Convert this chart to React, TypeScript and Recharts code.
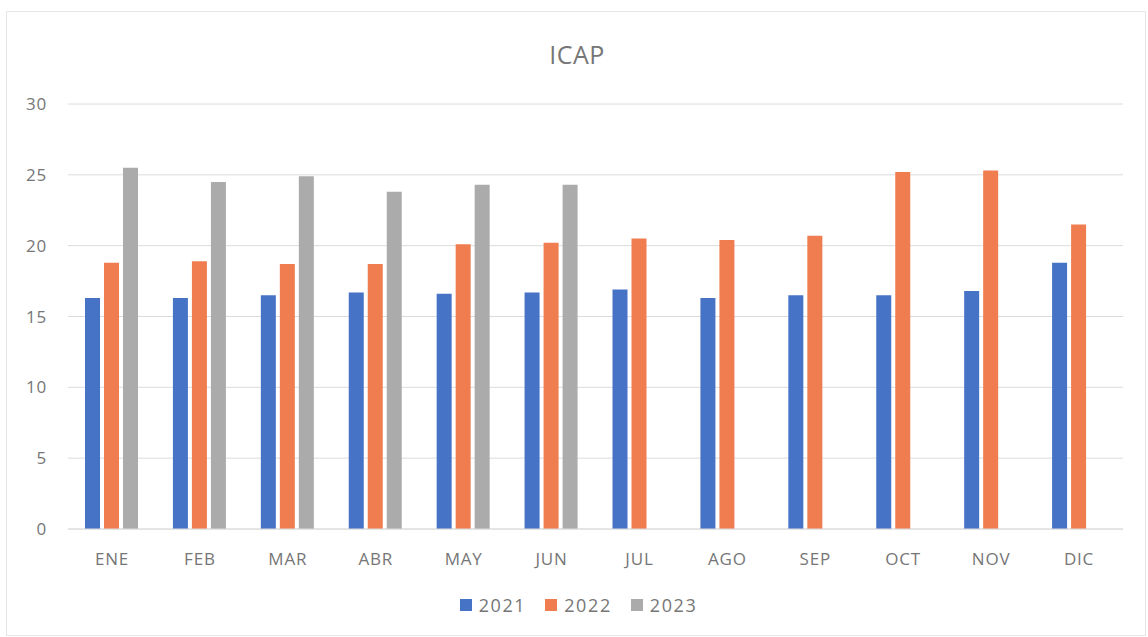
import { Bar, BarChart, CartesianGrid, Legend, XAxis, YAxis } from "recharts";

const months = ["ENE", "FEB", "MAR", "ABR", "MAY", "JUN", "JUL", "AGO", "SEP", "OCT", "NOV", "DIC"];
const values2021 = [16.3, 16.3, 16.5, 16.7, 16.6, 16.7, 16.9, 16.3, 16.5, 16.5, 16.8, 18.8];
const values2022 = [18.8, 18.9, 18.7, 18.7, 20.1, 20.2, 20.5, 20.4, 20.7, 25.2, 25.3, 21.5];
const values2023 = [25.5, 24.5, 24.9, 23.8, 24.3, 24.3, null, null, null, null, null, null];
const yTicks = [0, 5, 10, 15, 20, 25, 30];

const series = [
  { key: "2021", color: "#4773C6" },
  { key: "2022", color: "#EF7D4F" },
  { key: "2023", color: "#ABABAB" },
];

const data = months.map((m, i) => ({
  month: m,
  "2021": values2021[i],
  "2022": values2022[i],
  "2023": values2023[i],
}));

const FONT = "'Open Sans', sans-serif";
const TEXT = "#767676";

const CustomLegend = () => (
  <div
    style={{
      display: "flex",
      justifyContent: "center",
      alignItems: "center",
      height: 20,
      paddingLeft: 34,
      fontFamily: FONT,
      fontSize: 18,
      letterSpacing: 1.6,
      color: TEXT,
    }}
  >
    {series.map((s, i) => (
      <div
        key={s.key}
        style={{ display: "flex", alignItems: "center", marginRight: i < series.length - 1 ? 19 : 0 }}
      >
        <div style={{ width: 12, height: 12, backgroundColor: s.color, marginRight: 7 }} />
        <span>{s.key}</span>
      </div>
    ))}
  </div>
);

export default function App() {
  return (
    <div style={{ position: "absolute", left: 0, top: 0, width: 1148, height: 637, background: "#fff" }}>
      <div
        style={{
          position: "absolute",
          left: 6,
          top: 11,
          width: 1138,
          height: 623,
          border: "1px solid #e6e6e6",
        }}
      />
      <div
        style={{
          position: "absolute",
          left: 0,
          right: 0,
          top: 39,
          textAlign: "center",
          fontFamily: FONT,
          fontSize: 25,
          lineHeight: "30px",
          color: TEXT,
          letterSpacing: 0.5,
        }}
      >
        <span style={{ position: "relative", left: 3 }}>ICAP</span>
      </div>
      <div style={{ position: "absolute", left: 0, top: 0 }}>
        <BarChart
          width={1148}
          height={637}
          data={data}
          margin={{ top: 104, right: 25, left: 0, bottom: 22 }}
          barSize={15}
          barGap={4}
        >
          <CartesianGrid vertical={false} stroke="#dcdcdc" />
          <XAxis
            dataKey="month"
            axisLine={{ stroke: "#dcdcdc" }}
            tickLine={false}
            tickSize={0}
            tickMargin={24}
            height={66}
            interval={0}
            tick={{ fontSize: 17, fill: TEXT, fontFamily: FONT, letterSpacing: 0.8 }}
          />
          <YAxis
            width={68}
            domain={[0, 30]}
            ticks={yTicks}
            axisLine={false}
            tickLine={false}
            tickSize={0}
            tickMargin={21}
            tick={{ fontSize: 17, fill: TEXT, fontFamily: FONT, letterSpacing: 0.8 }}
          />
          <Legend verticalAlign="bottom" height={20} content={<CustomLegend />} />
          {series.map((s) => (
            <Bar key={s.key} dataKey={s.key} fill={s.color} isAnimationActive={false} />
          ))}
        </BarChart>
      </div>
    </div>
  );
}
